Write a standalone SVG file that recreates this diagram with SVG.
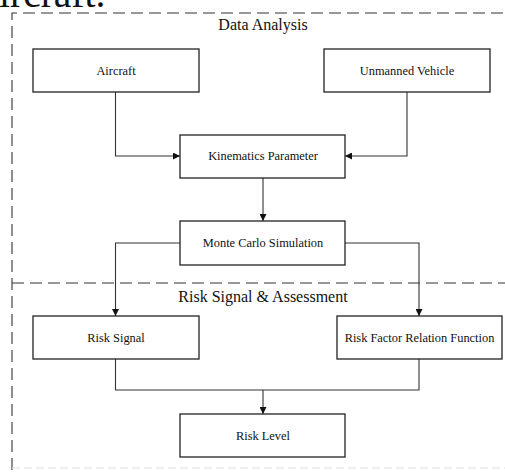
<svg xmlns="http://www.w3.org/2000/svg" width="505" height="472" viewBox="0 0 505 472">
<style>
.box{fill:#fff;stroke:#222;stroke-width:1.3}
.lbl{font-family:"Liberation Serif","Times New Roman",serif;font-size:12.4px;fill:#111;text-anchor:middle}
.ttl{font-family:"Liberation Serif","Times New Roman",serif;font-size:16px;fill:#111;text-anchor:middle}
.dash{fill:none;stroke:#333;stroke-width:1.1;stroke-dasharray:12 6}
.conn{fill:none;stroke:#333;stroke-width:1.1}
</style>
<defs>
<marker id="arr" viewBox="0 0 10 10" refX="10" refY="5" markerWidth="8" markerHeight="7" markerUnits="userSpaceOnUse" orient="auto">
<path d="M0,0 L10,5 L0,10 z" fill="#111"/>
</marker>
</defs>
<rect width="505" height="472" fill="#fff"/>
<text x="-1" y="7" font-family="Liberation Serif, serif" font-size="39.5" fill="#111">ircraft.</text>
<g id="frame">
<path class="dash" d="M12,470 L12,13 L505,13"/>
<path class="dash" d="M12,283 L505,283"/>
<path d="M12,468 L505,468" fill="none" stroke="#ddd" stroke-width="1" stroke-dasharray="8 4"/>
</g>
<text class="ttl" x="263" y="30">Data Analysis</text>
<text class="ttl" x="263" y="302">Risk Signal &amp; Assessment</text>
<g id="connectors">
<path class="conn" d="M115.5,92 L115.5,156 L180,156" marker-end="url(#arr)"/>
<path class="conn" d="M407,92 L407,156 L345,156" marker-end="url(#arr)"/>
<path class="conn" d="M263,178 L263,221" marker-end="url(#arr)"/>
<path class="conn" d="M180,243 L115.5,243 L115.5,316" marker-end="url(#arr)"/>
<path class="conn" d="M345,243 L419,243 L419,316" marker-end="url(#arr)"/>
<path class="conn" d="M115.5,359 L115.5,390 L419,390 L419,359"/>
<path class="conn" d="M263,390 L263,414" marker-end="url(#arr)"/>
</g>
<g id="aircraft">
<rect class="box" x="33" y="49" width="166" height="43"/>
<text class="lbl" x="116" y="75">Aircraft</text>
</g>
<g id="unmanned">
<rect class="box" x="324" y="49" width="166" height="43"/>
<text class="lbl" x="407" y="75">Unmanned Vehicle</text>
</g>
<g id="kinematics">
<rect class="box" x="180" y="135" width="165" height="43"/>
<text class="lbl" x="263" y="160">Kinematics Parameter</text>
</g>
<g id="montecarlo">
<rect class="box" x="180" y="221" width="165" height="44"/>
<text class="lbl" x="263" y="247">Monte Carlo Simulation</text>
</g>
<g id="risksignal">
<rect class="box" x="33" y="316" width="166" height="43"/>
<text class="lbl" x="116" y="342">Risk Signal</text>
</g>
<g id="riskfactor">
<rect class="box" x="337" y="316" width="165" height="43"/>
<text class="lbl" x="419.5" y="342">Risk Factor Relation Function</text>
</g>
<g id="risklevel">
<rect class="box" x="180" y="414" width="165" height="43"/>
<text class="lbl" x="263" y="440">Risk Level</text>
</g>
</svg>
